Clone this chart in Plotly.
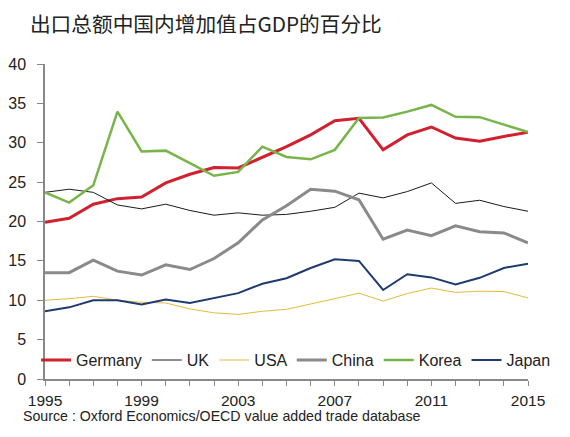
import plotly.graph_objects as go

years = list(range(1995, 2016))
germany = [19.9, 20.4, 22.2, 22.9, 23.1, 24.9, 26.0, 26.85, 26.8, 28.1, 29.5, 31.0, 32.8, 33.1, 29.1, 31.0, 32.0, 30.6, 30.2, 30.8, 31.35]
uk = [23.7, 24.1, 23.7, 22.1, 21.6, 22.2, 21.4, 20.8, 21.1, 20.8, 20.9, 21.3, 21.8, 23.6, 23.0, 23.8, 24.9, 22.3, 22.7, 21.9, 21.3]
usa = [10.0, 10.2, 10.5, 10.0, 9.75, 9.65, 8.9, 8.4, 8.2, 8.6, 8.85, 9.5, 10.2, 10.9, 9.9, 10.85, 11.55, 11.0, 11.15, 11.1, 10.3]
china = [13.5, 13.5, 15.1, 13.7, 13.2, 14.5, 13.9, 15.3, 17.3, 20.2, 22.0, 24.1, 23.85, 22.75, 17.75, 18.9, 18.2, 19.45, 18.7, 18.55, 17.3]
korea = [23.7, 22.4, 24.6, 33.95, 28.9, 29.0, 27.4, 25.8, 26.3, 29.5, 28.2, 27.9, 29.1, 33.15, 33.2, 33.95, 34.8, 33.3, 33.25, 32.3, 31.35]
japan = [8.6, 9.1, 10.0, 10.0, 9.45, 10.1, 9.65, 10.3, 10.9, 12.1, 12.8, 14.1, 15.2, 15.0, 11.3, 13.3, 12.9, 12.0, 12.85, 14.1, 14.65]

title_text = "出口总额中国内增加值占GDP的百分比"
source_text = "Source : Oxford Economics/OECD value added trade database"
x_tick_vals = [1995, 1999, 2003, 2007, 2011, 2015]
y_tick_vals = [0, 5, 10, 15, 20, 25, 30, 35, 40]

series = [
    ("Germany", germany, "#D1202F", 3, "legend"),
    ("UK", uk, "#1a1a1a", 1, "legend"),
    ("USA", usa, "#E3BC3C", 1, "legend"),
    ("China", china, "#8A8A8A", 3, "legend2"),
    ("Korea", korea, "#78B44A", 2.5, "legend2"),
    ("Japan", japan, "#1F3A70", 2, "legend2"),
]

fig = go.Figure()
for name, vals, color, w, lg in series:
    fig.add_trace(go.Scatter(x=years, y=vals, mode="lines", name=name, legend=lg,
                             line=dict(color=color, width=w)))

font_main = "Arial, Liberation Sans, sans-serif"
legend_common = dict(orientation="h", yanchor="middle", y=0.06, xanchor="left",
                     font=dict(size=16, color="#222"), bgcolor="rgba(0,0,0,0)",
                     itemwidth=30, tracegroupgap=0, borderwidth=0)
# page body has an 8px margin, so the figure is 8px smaller than the window
fig.update_layout(
    width=562, height=429,
    margin=dict(l=37, r=42, t=56, b=58, autoexpand=False),
    paper_bgcolor="white", plot_bgcolor="white",
    font=dict(family=font_main, size=15, color="#222"),
    showlegend=True,
    legend=dict(x=-0.0186, **legend_common),
    legend2=dict(x=0.511, **legend_common),
    title=dict(text=title_text, x=0.039, xanchor="left", y=0.962, yanchor="middle",
               font=dict(family="Noto Sans CJK SC", size=20.7, color="#222")),
    annotations=[dict(text=source_text, xref="paper", yref="paper", x=-0.05, y=-0.1175,
                      xanchor="left", yanchor="middle", showarrow=False,
                      font=dict(size=14.2, color="#222"))],
)
fig.update_xaxes(range=[1995, 2015], tickvals=x_tick_vals, showgrid=False,
                 showline=True, linecolor="#888", linewidth=1.5,
                 ticks="outside", ticklen=5, tickcolor="#888",
                 minor=dict(dtick=1, tick0=1995, ticks="outside", ticklen=5, tickcolor="#888", showgrid=False),
                 zeroline=False, tickfont=dict(size=15.5), ticklabelstandoff=2)
fig.update_yaxes(range=[0, 40], tickvals=y_tick_vals, showgrid=False,
                 showline=True, linecolor="#888", linewidth=1.5,
                 ticks="outside", ticklen=6, tickcolor="#888",
                 zeroline=False, tickfont=dict(size=16), ticklabelstandoff=8)

fig.write_html("out.html")
